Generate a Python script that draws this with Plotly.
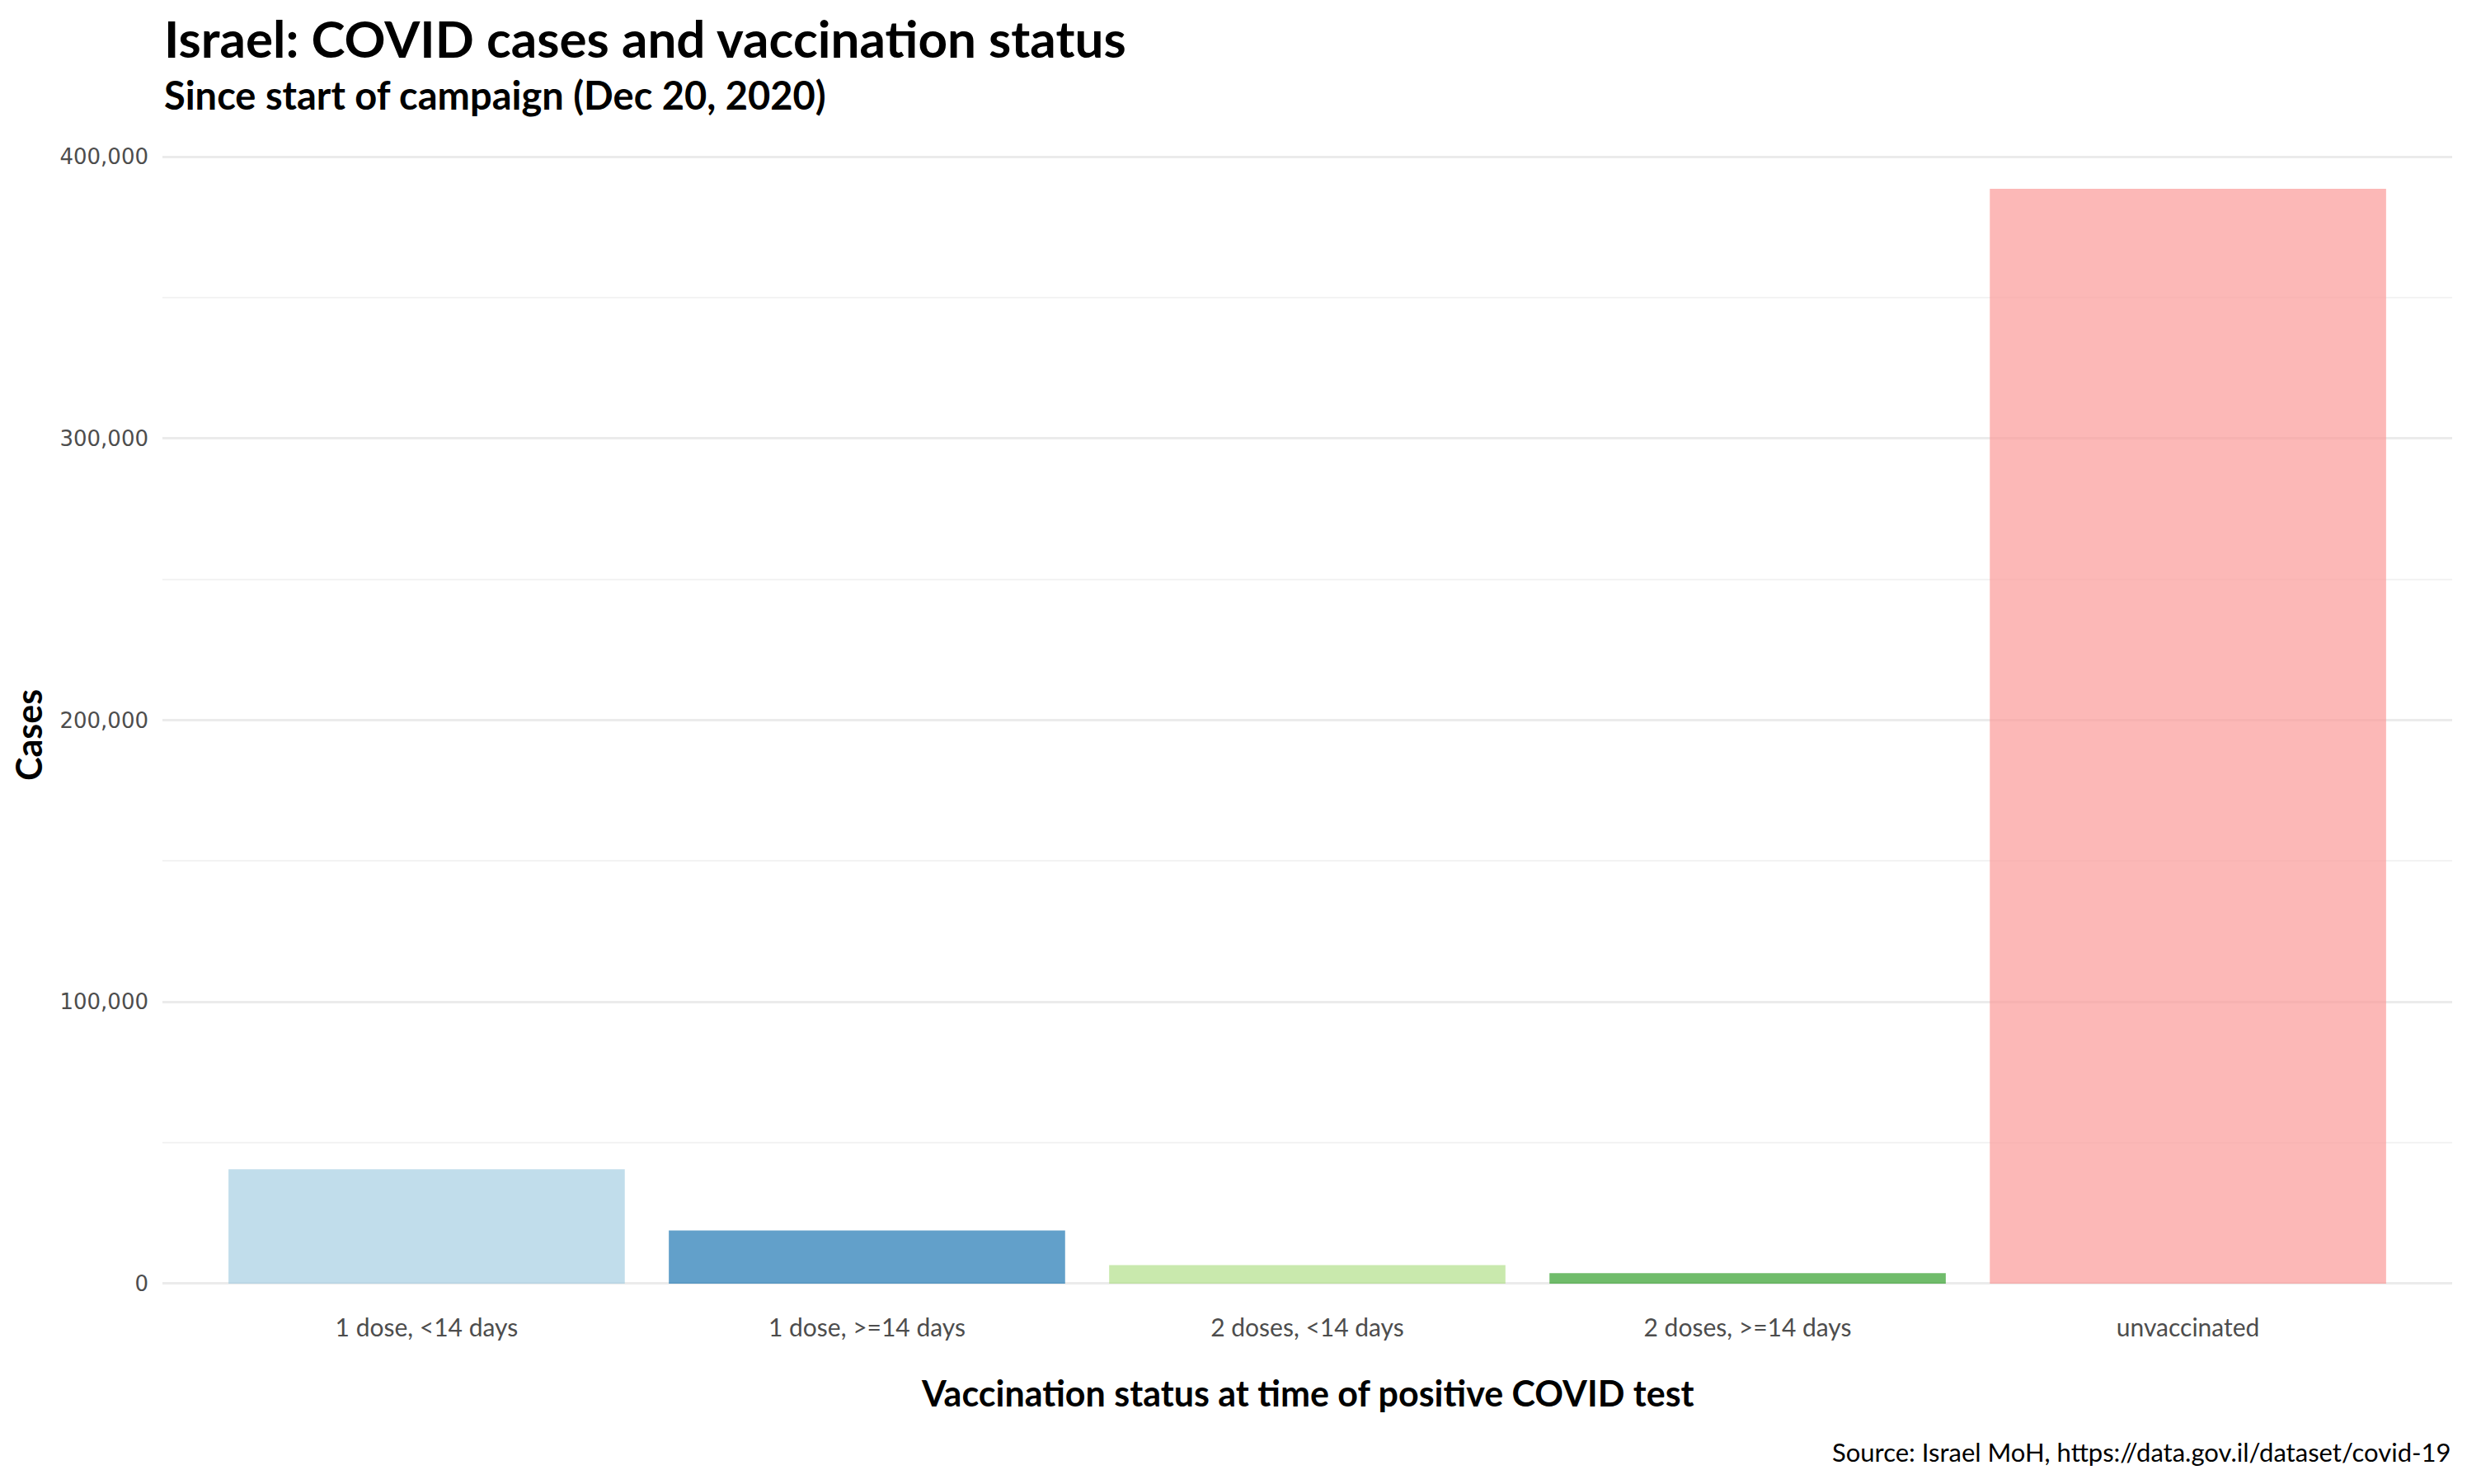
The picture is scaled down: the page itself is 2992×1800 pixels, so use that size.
import plotly.graph_objects as go

# ---- data ----
categories = ["1 dose, <14 days", "1 dose, >=14 days", "2 doses, <14 days",
              "2 doses, >=14 days", "unvaccinated"]
cases = [40600, 18900, 6600, 3700, 388700]
bar_colors = ["#a6cee3", "#1f78b4", "#b2df8a", "#33a02c", "#fb9a99"]
y_ticks = [0, 100000, 200000, 300000, 400000]
y_tick_labels = ["0", "100,000", "200,000", "300,000", "400,000"]

title = "Israel: COVID cases and vaccination status"
subtitle = "Since start of campaign (Dec 20, 2020)"
x_title = "Vaccination status at time of positive COVID test"
y_title = "Cases"
caption = "Source: Israel MoH, https://data.gov.il/dataset/covid-19"

# page has an 8px body margin: work in figure pixels = page pixels - 8
OFF = 8
W, H = 2992 - OFF, 1800 - OFF
left, right = 196.7 - OFF, 2974.0 - OFF
top, bottom = 163.37 - OFF, 1559.35 - OFF
ph = bottom - top
pw = right - left


def py(p):
    return (bottom - (p - OFF)) / ph


def px(p):
    return ((p - OFF) - left) / pw


FONT = "Lato, 'Noto Sans', sans-serif"

fig = go.Figure()
fig.add_trace(go.Bar(
    x=categories, y=cases,
    marker=dict(color=bar_colors, opacity=0.7, line=dict(width=0)),
    showlegend=False,
))

fig.update_layout(
    width=W, height=H,
    paper_bgcolor="white", plot_bgcolor="white",
    margin=dict(l=left, r=W - right, t=top, b=H - bottom, pad=0),
    bargap=0.1,
    font=dict(family=FONT, color="#4d4d4d"),
    xaxis=dict(
        range=[-0.6, 4.6], showgrid=False, zeroline=False, showline=False,
        ticks="", tickfont=dict(family=FONT, size=30, color="#4d4d4d"),
        ticklabelstandoff=31,
    ),
    yaxis=dict(
        range=[-600, 408000], tickvals=y_ticks, ticktext=y_tick_labels,
        showgrid=True, gridcolor="#ebebeb", gridwidth=2.6,
        minor=dict(dtick=50000, tick0=0, showgrid=True, gridcolor="#f3f3f3", gridwidth=1.6),
        zeroline=False, showline=False, ticks="",
        tickfont=dict(family="'DejaVu Sans', sans-serif", size=26, color="#4d4d4d"),
        ticklabelstandoff=16,
    ),
    annotations=[
        dict(text="<b>" + title + "</b>", xref="paper", yref="paper", x=0, y=py(46),
             xanchor="left", yanchor="middle", showarrow=False,
             font=dict(family=FONT, size=62, color="black")),
        dict(text="<b>" + subtitle + "</b>", xref="paper", yref="paper", x=0, y=py(115),
             xanchor="left", yanchor="middle", showarrow=False,
             font=dict(family=FONT, size=47, color="black")),
        dict(text="<b>" + x_title + "</b>", xref="paper", yref="paper", x=0.5, y=py(1690),
             xanchor="center", yanchor="middle", showarrow=False,
             font=dict(family=FONT, size=43, color="black")),
        dict(text="<b>" + y_title + "</b>", xref="paper", yref="paper", x=px(34), y=py(892),
             xanchor="center", yanchor="middle", showarrow=False, textangle=-90,
             font=dict(family=FONT, size=43, color="black")),
        dict(text=caption, xref="paper", yref="paper", x=1, y=py(1761),
             xanchor="right", yanchor="middle", showarrow=False,
             font=dict(family=FONT, size=31, color="black")),
    ],
)

fig.write_html("out.html")
